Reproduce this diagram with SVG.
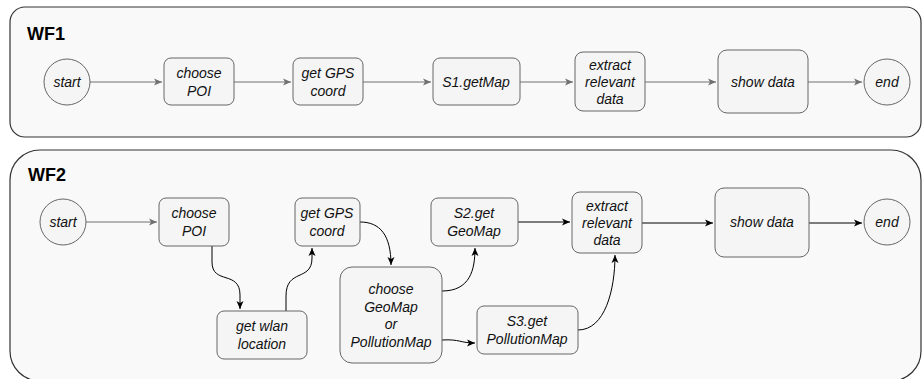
<svg xmlns="http://www.w3.org/2000/svg" width="923" height="379" viewBox="0 0 923 379">
<style>
.cont{fill:#f9f9f9;stroke:#333;stroke-width:1.2}
.node{fill:#f5f5f5;stroke:#666;stroke-width:1}
.t{font-family:"Liberation Sans",Arial,sans-serif;font-style:italic;font-size:14px;fill:#111;text-anchor:middle}
.h{font-family:"Liberation Sans",Arial,sans-serif;font-weight:bold;font-size:18px;fill:#000}
.g{fill:none;stroke:#707070;stroke-width:1}
.b{fill:none;stroke:#000;stroke-width:1}
</style>
<defs>
<marker id="ag" markerWidth="10" markerHeight="10" refX="8" refY="5" orient="auto" markerUnits="userSpaceOnUse"><path d="M0,1.5 L8,5 L0,8.5 L2,5 Z" fill="#707070"/></marker>
<marker id="ab" markerWidth="10" markerHeight="10" refX="8" refY="5" orient="auto" markerUnits="userSpaceOnUse"><path d="M0,1.5 L8,5 L0,8.5 L2,5 Z" fill="#000"/></marker>
</defs>
<g id="wf1">
<rect class="cont" x="10" y="7" width="911" height="130" rx="15"/>
<text class="h" x="27" y="40">WF1</text>
</g>
<g id="wf2">
<rect class="cont" x="10" y="150" width="911" height="231" rx="30"/>
<text class="h" x="28" y="181">WF2</text>
</g>
<g id="connectors">
<path class="g" d="M90,82 H162" marker-end="url(#ag)"/>
<path class="g" d="M234,82 H291" marker-end="url(#ag)"/>
<path class="g" d="M363,82 H431" marker-end="url(#ag)"/>
<path class="g" d="M520,82 H573" marker-end="url(#ag)"/>
<path class="g" d="M645,82 H716" marker-end="url(#ag)"/>
<path class="g" d="M808,82 H862" marker-end="url(#ag)"/>
<path class="g" d="M86,222 H157" marker-end="url(#ag)"/>
<path class="b" d="M212,246 V262 C212,285 240,270 240,295 V309" marker-end="url(#ab)"/>
<path class="b" d="M286,311 V296 C286,268 312,282 312,258 V248" marker-end="url(#ab)"/>
<path class="b" d="M360,222 C380,222 391,235 391,265" marker-end="url(#ab)"/>
<path class="b" d="M442,291 C470,291 475,270 475,248" marker-end="url(#ab)"/>
<path class="b" d="M442,340 C460,339 460,343 475,343" marker-end="url(#ab)"/>
<path class="b" d="M518,222 H570" marker-end="url(#ab)"/>
<path class="b" d="M578,330 C605,330 615,290 615,255" marker-end="url(#ab)"/>
<path class="b" d="M642,223 H713" marker-end="url(#ab)"/>
<path class="b" d="M809,223 H862" marker-end="url(#ab)"/>
</g>
<g id="wf1-start"><circle class="node" cx="67" cy="82" r="23"/><text class="t" x="67" y="87">start</text></g>
<g id="wf1-choose-poi"><rect class="node" x="164" y="58" width="70" height="47" rx="7"/><text class="t" x="199" y="78">choose</text><text class="t" x="199" y="96">POI</text></g>
<g id="wf1-get-gps"><rect class="node" x="293" y="58" width="70" height="47" rx="7"/><text class="t" x="328" y="78">get GPS</text><text class="t" x="328" y="96">coord</text></g>
<g id="wf1-s1"><rect class="node" x="433" y="58" width="87" height="47" rx="7"/><text class="t" x="476" y="87">S1.getMap</text></g>
<g id="wf1-extract"><rect class="node" x="575" y="52" width="70" height="59" rx="8"/><text class="t" x="610" y="70">extract</text><text class="t" x="610" y="87">relevant</text><text class="t" x="610" y="104">data</text></g>
<g id="wf1-show"><rect class="node" x="718" y="50" width="90" height="63" rx="9"/><text class="t" x="763" y="87">show data</text></g>
<g id="wf1-end"><circle class="node" cx="887" cy="82" r="23"/><text class="t" x="887" y="87">end</text></g>

<g id="wf2-start"><circle class="node" cx="63" cy="222" r="23"/><text class="t" x="63" y="227">start</text></g>
<g id="wf2-choose-poi"><rect class="node" x="159" y="198" width="70" height="48" rx="7"/><text class="t" x="194" y="218">choose</text><text class="t" x="194" y="236">POI</text></g>
<g id="wf2-get-gps"><rect class="node" x="295" y="198" width="65" height="48" rx="7"/><text class="t" x="327" y="218">get GPS</text><text class="t" x="327" y="236">coord</text></g>
<g id="wf2-wlan"><rect class="node" x="217" y="311" width="90" height="48" rx="7"/><text class="t" x="262" y="331">get wlan</text><text class="t" x="262" y="349">location</text></g>
<g id="wf2-choose-map"><rect class="node" x="340" y="267" width="102" height="96" rx="12"/><text class="t" x="391" y="294">choose</text><text class="t" x="391" y="312">GeoMap</text><text class="t" x="391" y="329">or</text><text class="t" x="391" y="347">PollutionMap</text></g>
<g id="wf2-s2"><rect class="node" x="431" y="198" width="87" height="48" rx="7"/><text class="t" x="474" y="218">S2.get</text><text class="t" x="474" y="236">GeoMap</text></g>
<g id="wf2-s3"><rect class="node" x="477" y="306" width="101" height="48" rx="7"/><text class="t" x="527" y="326">S3.get</text><text class="t" x="527" y="344">PollutionMap</text></g>
<g id="wf2-extract"><rect class="node" x="572" y="192" width="70" height="61" rx="8"/><text class="t" x="607" y="211">extract</text><text class="t" x="607" y="228">relevant</text><text class="t" x="607" y="245">data</text></g>
<g id="wf2-show"><rect class="node" x="715" y="188" width="94" height="69" rx="9"/><text class="t" x="762" y="227">show data</text></g>
<g id="wf2-end"><circle class="node" cx="887" cy="222" r="23"/><text class="t" x="887" y="227">end</text></g>
</svg>
